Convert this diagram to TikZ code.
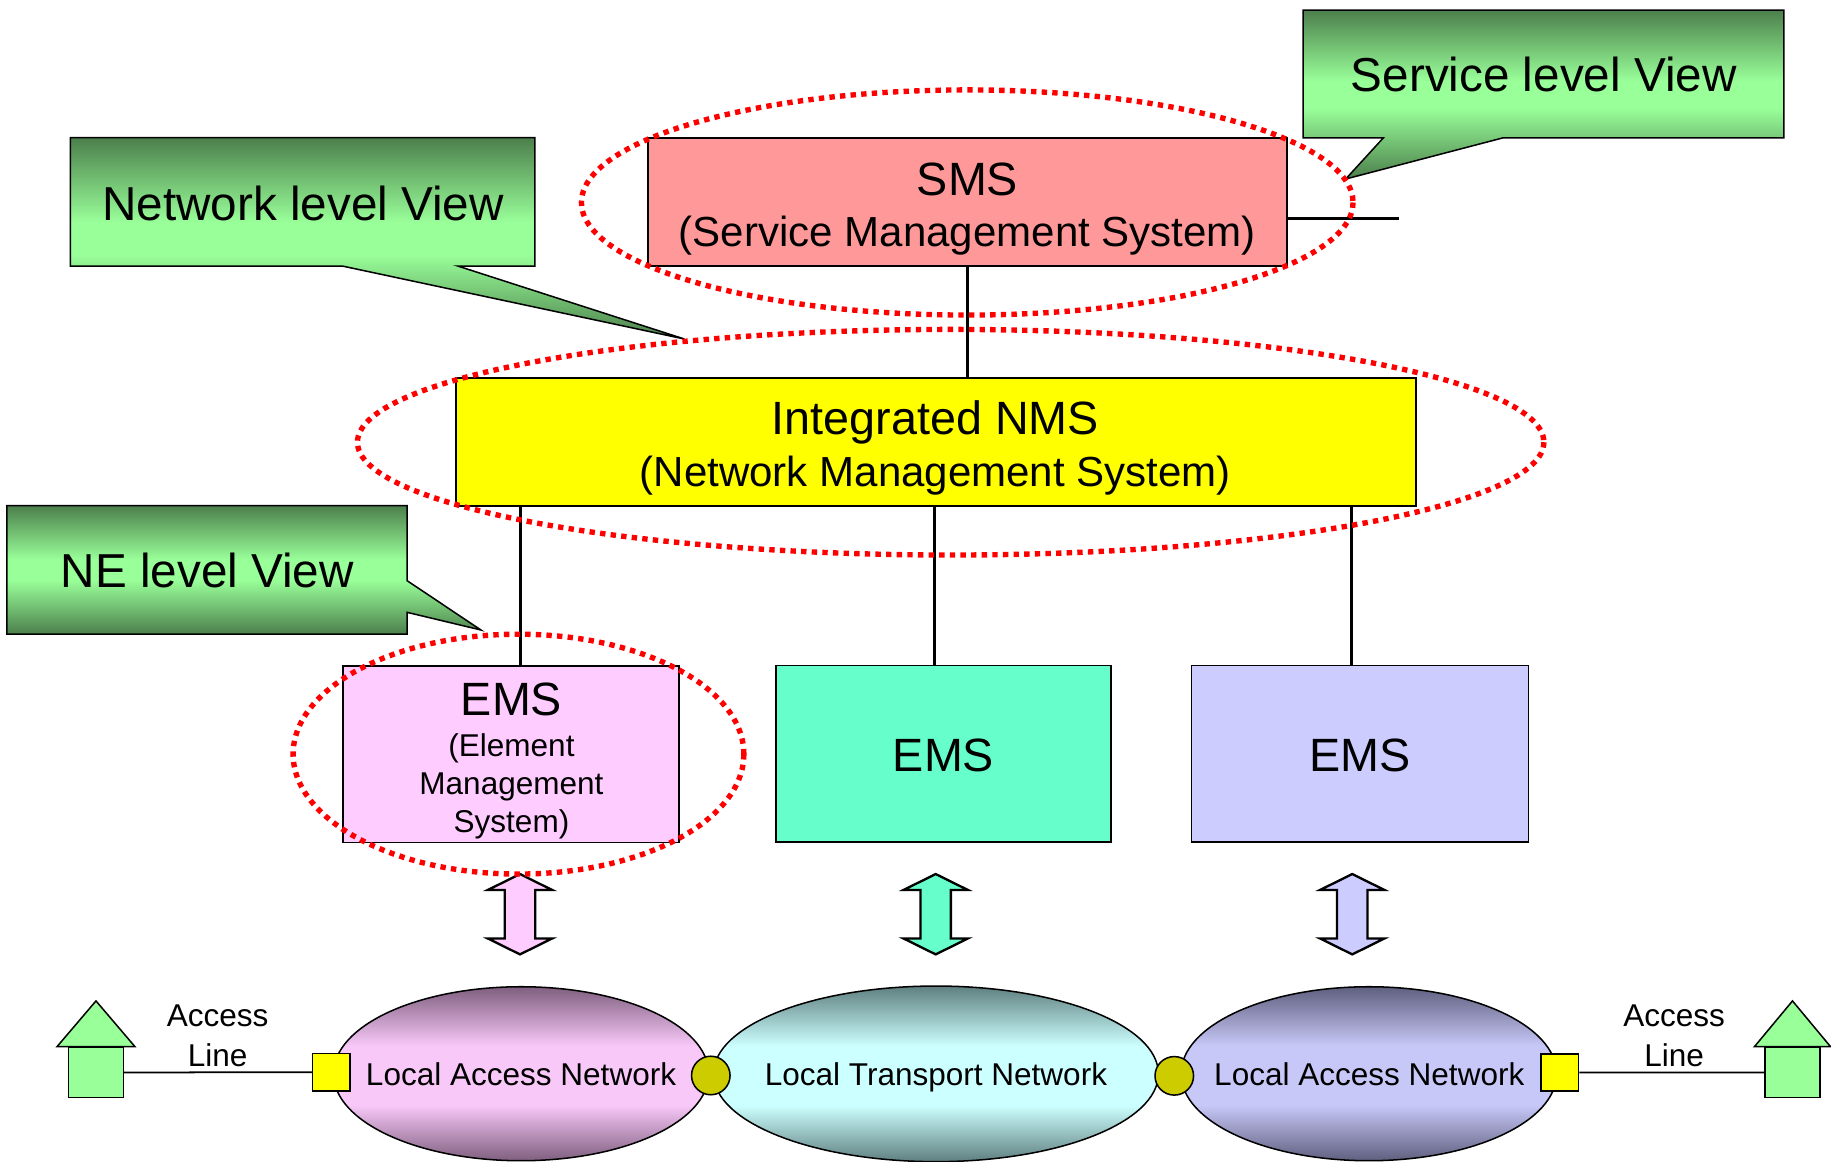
\documentclass[tikz,border=0pt]{standalone}
\usepackage{fontspec}
\setmainfont{Liberation Sans}
\usetikzlibrary{shapes.geometric}
\definecolor{cdark}{HTML}{4C7F4C}
\definecolor{clight}{HTML}{99FF99}
\definecolor{smsfill}{HTML}{FF9999}
\definecolor{nmsfill}{HTML}{FFFF00}
\definecolor{emsA}{HTML}{FFCCFF}
\definecolor{emsB}{HTML}{66FFCC}
\definecolor{emsC}{HTML}{CCCCFF}
\definecolor{joint}{HTML}{CCCC00}
\definecolor{housegreen}{HTML}{99FF99}
\definecolor{laAd}{HTML}{7F5F7F}
\definecolor{laAl}{HTML}{F8C8F8}
\definecolor{ltd}{HTML}{5F7F7F}
\definecolor{ltl}{HTML}{CCFFFF}
\definecolor{laBd}{HTML}{5F5F7F}
\definecolor{laBl}{HTML}{C8C8F8}
\pgfdeclareverticalshading{calloutsh}{100bp}{color(0bp)=(cdark); color(25bp)=(cdark); color(46bp)=(clight); color(54bp)=(clight); color(75bp)=(cdark); color(100bp)=(cdark)}
\pgfdeclareverticalshading{lanAsh}{100bp}{color(0bp)=(laAd); color(25bp)=(laAd); color(41bp)=(laAl); color(58bp)=(laAl); color(75bp)=(laAd); color(100bp)=(laAd)}
\pgfdeclareverticalshading{ltnsh}{100bp}{color(0bp)=(ltd); color(25bp)=(ltd); color(41bp)=(ltl); color(58bp)=(ltl); color(75bp)=(ltd); color(100bp)=(ltd)}
\pgfdeclareverticalshading{lanBsh}{100bp}{color(0bp)=(laBd); color(25bp)=(laBd); color(41bp)=(laBl); color(58bp)=(laBl); color(75bp)=(laBd); color(100bp)=(laBd)}
\tikzset{
  callout/.style={draw=black, line width=1.3pt, shade, shading=calloutsh, line join=miter},
  box/.style={draw=black, line width=1.3pt, rectangle, inner sep=0pt},
  conn/.style={draw=black, line width=2.7pt},
  dotell/.style={draw=red, line width=4.6pt, dash pattern=on 4.6pt off 4.5pt},
  thuge/.style={anchor=base, inner sep=0pt, font=\fontsize{40.8}{48}\selectfont},
  tbig/.style={anchor=base, inner sep=0pt, font=\fontsize{40}{48}\selectfont},
  tmid/.style={anchor=base, inner sep=0pt, font=\fontsize{36}{44}\selectfont},
  tsmall/.style={anchor=base, inner sep=0pt, font=\fontsize{27}{32}\selectfont},
  netell/.style={ellipse, draw=black, line width=1.3pt, inner sep=0pt, shade},
  jointc/.style={circle, draw=black, line width=1.3pt, fill=joint, minimum size=33pt, inner sep=0pt},
  port/.style={rectangle, draw=black, line width=1.3pt, fill=nmsfill, minimum size=32pt, inner sep=0pt},
  housebody/.style={rectangle, draw=black, line width=1.3pt, fill=housegreen, minimum width=47pt, minimum height=42.7pt, inner sep=0pt},
  roof/.style={draw=black, line width=1.3pt, fill=housegreen, line join=miter},
  thinline/.style={draw=black, line width=1.5pt},
  dblarrow/.pic={\path[pic actions] (0,-34.4) -- (27.5,-20.8) -- (13,-20.8) -- (13,20.8) -- (27.5,20.8) -- (0,34.4) -- (-27.5,20.8) -- (-13,20.8) -- (-13,-20.8) -- (-27.5,-20.8) -- cycle;}
}
\begin{document}
\begin{tikzpicture}[x=1pt, y=-1pt]
\useasboundingbox (0,0) rectangle (1568,995);
\fill[white] (0,0) rectangle (1568,995);

% callouts
\path[callout] (1116,8.6) -- (1527.7,8.6) -- (1527.7,118) -- (1287.3,118) -- (1152.4,153.3) -- (1184.7,118) -- (1116,118) -- cycle;
\node[thuge] (svcview) at (1322,78.5) {Service level View};
\path[callout] (60.2,117.9) -- (458,117.9) -- (458,227.8) -- (392,227.8) -- (586,290.3) -- (293,227.8) -- (60.2,227.8) -- cycle;
\node[thuge] (netview) at (259.5,188.4) {Network level View};
\path[callout] (5.8,433) -- (348.7,433) -- (348.7,497.3) -- (411.8,539.5) -- (348.7,524.4) -- (348.7,543) -- (5.8,543) -- cycle;
\node[thuge] (neview) at (177.5,503.3) {NE level View};

% management boxes
\node[box, fill=smsfill, minimum width=547pt, minimum height=110pt] (sms) at (828.5,173) {};
\node[tbig] (smst1) at (828.5,167) {SMS};
\node[tmid] (smst2) at (828.5,211) {(Service Management System)};
\coordinate (smsend) at (1198.4,186.9);
\draw[conn] (sms.east |- smsend) -- (smsend);

\node[box, fill=nmsfill, minimum width=822pt, minimum height=110pt] (nms) at (801.4,378.5) {};
\node[tbig] (nmst1) at (801,372.5) {Integrated NMS};
\node[tmid] (nmst2) at (801,416.8) {(Network Management System)};

\draw[conn] (sms.south) -- (sms.south |- nms.north);

\node[box, fill=emsA, minimum width=287.6pt, minimum height=151pt] (ems1) at (437.7,645.9) {};
\node[box, fill=emsB, minimum width=287pt, minimum height=151pt] (ems2) at (807.9,645.5) {};
\node[box, fill=emsC, minimum width=288.4pt, minimum height=151pt] (ems3) at (1164.6,645.5) {};
\node[tbig] (ems1t) at (438,612.6) {EMS};
\node[tsmall] (ems1s1) at (438,648) {(Element};
\node[tsmall] (ems1s2) at (438,680.3) {Management};
\node[tsmall] (ems1s3) at (438,712.8) {System)};
\node[tbig] (ems2t) at (808,660.8) {EMS};
\node[tbig] (ems3t) at (1164.6,660.8) {EMS};

\coordinate (e1top) at ([xshift=7.9pt]ems1.north);
\coordinate (e2top) at ([xshift=-7.3pt]ems2.north);
\coordinate (e3top) at ([xshift=-7pt]ems3.north);
\draw[conn] (e1top |- nms.south) -- (e1top);
\draw[conn] (e2top |- nms.south) -- (e2top);
\draw[conn] (e3top |- nms.south) -- (e3top);

% double arrows
\pic[draw=black, fill=emsA, line width=2pt, line join=miter] (arrA) at (445.3,782.9) {dblarrow};
\pic[draw=black, fill=emsB, line width=2pt, line join=miter] (arrB) at (801.3,782.9) {dblarrow};
\pic[draw=black, fill=emsC, line width=2pt, line join=miter] (arrC) at (1158,782.9) {dblarrow};

% networks
\node[netell, shading=lanAsh, minimum width=321.3pt, minimum height=149pt] (lanA) at (446.25,919.5) {};
\node[netell, shading=lanBsh, minimum width=321.6pt, minimum height=149pt] (lanB) at (1172.2,919.5) {};
\node[netell, shading=ltnsh, minimum width=381pt, minimum height=150.4pt] (ltn) at (801.5,919.6) {};
\node[tsmall] (lanAt) at (446.2,930) {Local Access Network};
\node[tsmall] (ltnt) at (801.5,930) {Local Transport Network};
\node[tsmall] (lanBt) at (1172.6,930) {Local Access Network};
\node[jointc] (jA) at (608.7,921) {};
\node[jointc] (jB) at (1005.6,921.3) {};
\node[port] (pA) at (283.7,918.3) {};
\node[port] (pB) at (1335.8,918.5) {};

% houses
\node[housebody] (hA) at (82.2,918.35) {};
\node[housebody] (hB) at (1535,918.35) {};
\draw[roof] ([xshift=-33.4pt]hA.north) -- ([xshift=33.4pt]hA.north) -- ([yshift=39.2pt]hA.north) -- cycle;
\draw[roof] ([xshift=-32.6pt]hB.north) -- ([xshift=32.6pt]hB.north) -- ([yshift=39.2pt]hB.north) -- cycle;
\draw[thinline] (hA.east) -- (pA.west);
\draw[thinline] (pB.east) -- (hB.west);
\node[tsmall] (acA1) at (186.4,879) {Access};
\node[tsmall] (acA2) at (186.4,913) {Line};
\node[tsmall] (acB1) at (1433.6,879) {Access};
\node[tsmall] (acB2) at (1433.6,913) {Line};

% dotted view ellipses
\draw[dotell] (828.3,173.4) ellipse [x radius=330.4, y radius=96.4];
\draw[dotell] (814.1,378.7) ellipse [x radius=508, y radius=96.6];
\draw[dotell] (444,645.8) ellipse [x radius=193, y radius=102.7];
\end{tikzpicture}
\end{document}
